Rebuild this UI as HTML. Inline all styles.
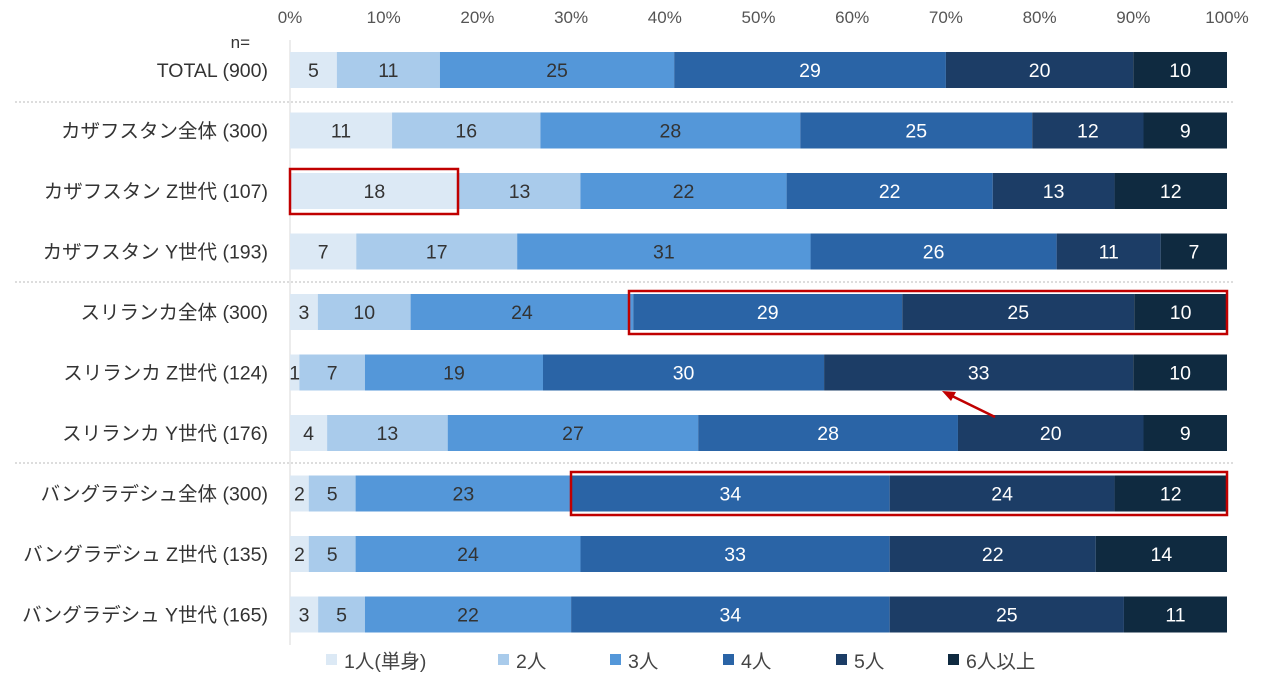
<!DOCTYPE html>
<html><head><meta charset="utf-8">
<style>
body{margin:0;background:#fff;width:1280px;height:687px;overflow:hidden;font-family:"Liberation Sans","Noto Sans CJK JP",sans-serif;}
svg text{font-family:"Liberation Sans","Noto Sans CJK JP",sans-serif;}
</style></head>
<body>
<svg id="chart" width="1280" height="687" xmlns="http://www.w3.org/2000/svg"></svg>
<script>
const categories=["TOTAL (900)","カザフスタン全体 (300)","カザフスタン Z世代 (107)","カザフスタン Y世代 (193)","スリランカ全体 (300)","スリランカ Z世代 (124)","スリランカ Y世代 (176)","バングラデシュ全体 (300)","バングラデシュ Z世代 (135)","バングラデシュ Y世代 (165)"];
const s1=[5,11,18,7,3,1,4,2,2,3];
const s2=[11,16,13,17,10,7,13,5,5,5];
const s3=[25,28,22,31,24,19,27,23,24,22];
const s4=[29,25,22,26,29,30,28,34,33,34];
const s5=[20,12,13,11,25,33,20,24,22,25];
const s6=[10,9,12,7,10,10,9,12,14,11];
const seriesNames=["1人(単身)","2人","3人","4人","5人","6人以上"];
const tickLabels=["0%","10%","20%","30%","40%","50%","60%","70%","80%","90%","100%"];
const colors=["#dce9f5","#a9cbeb","#5497d9","#2a64a6","#1c3d66","#0f2a40"];
const textColors=["#333","#333","#333","#fff","#fff","#fff"];
const series=[s1,s2,s3,s4,s5,s6];
const svg=document.getElementById('chart');
const NS="http://www.w3.org/2000/svg";
const x0=290,x1=1227,rowY0=70,rowStep=60.5,barH=36;
const xs=p=>x0+(x1-x0)*p/100;
const ys=i=>rowY0+i*rowStep;
function el(t,a,p){const e=document.createElementNS(NS,t);for(const k in a)e.setAttribute(k,a[k]);(p||svg).appendChild(e);return e;}
tickLabels.forEach((t,i)=>{
 const e=el('text',{x:xs(i*10),y:23,'text-anchor':'middle','font-size':17,fill:'#555'});
 
 
 e.textContent=t;
});
const ax=el('line',{x1:x0,y1:40,x2:x0,y2:645,stroke:'#d9d9d9'});


[102,282,463].forEach(y=>{
 const l=el('line',{x1:15,y1:y,x2:1235,y2:y,stroke:'#bbb','stroke-dasharray':'2,2'});
 
 
});
const n=el('text',{x:250,y:48,'text-anchor':'end','font-size':17,fill:'#333'});


n.textContent='n=';
categories.forEach((c,i)=>{
 const y=ys(i);
 const t=el('text',{x:268,y:y+7,'text-anchor':'end','font-size':19.5,fill:'#333'});
 
 
 t.textContent=c;
 let sum=0;series.forEach(s=>sum+=s[i]);
 let cum=0;
 series.forEach((s,k)=>{
  const v=s[i];const a=xs(cum/sum*100);cum+=v;const b=xs(cum/sum*100);
  const r=el('rect',{x:a,y:y-barH/2,width:b-a,height:barH,fill:colors[k]});
  
  
  const tx=el('text',{x:(a+b)/2,y:y+7,'text-anchor':'middle','font-size':19.5,fill:textColors[k]});
  
  
  tx.textContent=v;
 });
});
[[290,169,168,45],[629,291,598,43],[571,472,656,43]].forEach(b=>{
 const r=el('rect',{x:b[0],y:b[1],width:b[2],height:b[3],fill:'none',stroke:'#c00000','stroke-width':2.5});
 
 
});
const ar=el('line',{x1:995,y1:417,x2:950,y2:395,stroke:'#c00000','stroke-width':2.5});


const ah=el('polygon',{points:'942,391 956,392 951,401',fill:'#c00000'});


const lx=[326,498,610,723,836,948];
seriesNames.forEach((nm,k)=>{
 const r=el('rect',{x:lx[k],y:654,width:11,height:11,fill:colors[k]});
 
 
 const t=el('text',{x:lx[k]+18,y:668,'font-size':19.5,fill:'#444'});
 
 
 t.textContent=nm;
});
</script>
</body></html>
